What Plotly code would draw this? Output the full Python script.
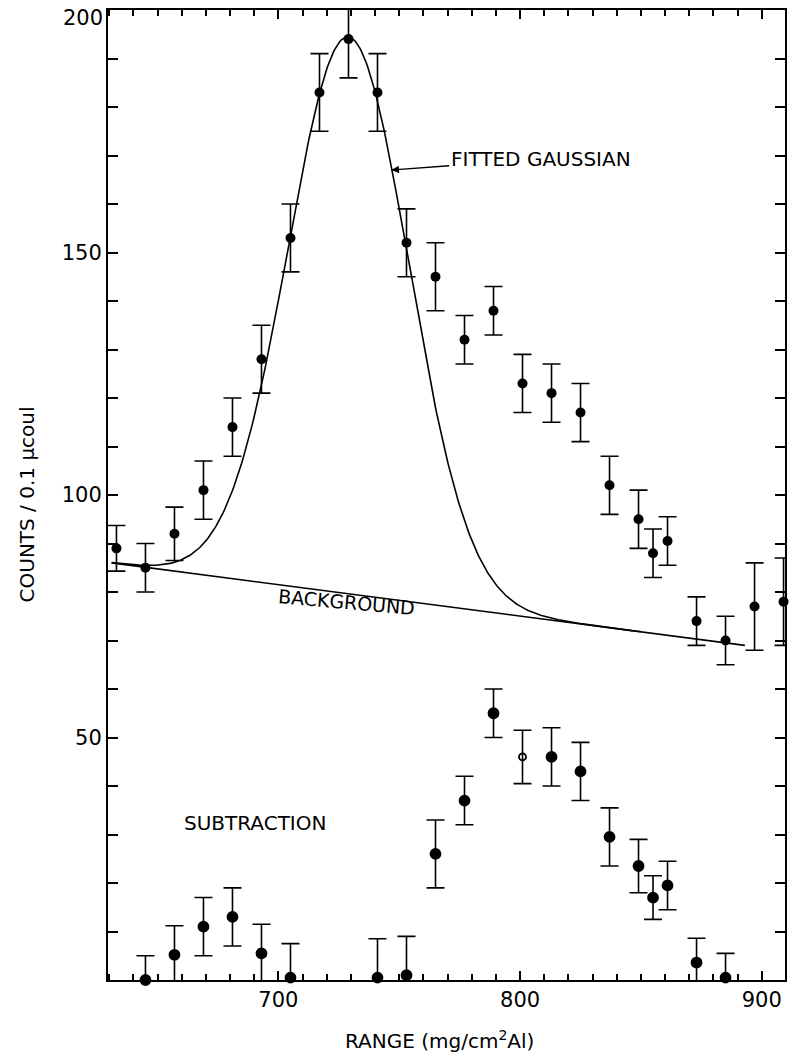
import numpy as np
import plotly.graph_objects as go

# Total counts per 0.1 µcoul versus absorber range
range_x = [633, 645, 657, 669, 681, 693, 705, 717, 729, 741, 753, 765, 777,
           789, 801, 813, 825, 837, 849, 855, 861, 873, 885, 897, 909]
counts = [89, 85, 92, 101, 114, 128, 153, 183, 194, 183, 152, 145, 132,
          138, 123, 121, 117, 102, 95, 88, 90.5, 74, 70, 77, 78]
counts_err = [4.7, 5, 5.5, 6, 6, 7, 7, 8, 8, 8, 7, 7, 5,
              5, 6, 6, 6, 6, 6, 5, 5, 5, 5, 9, 9]

# Counts left after subtracting the fitted Gaussian and background
sub_x = [645, 657, 669, 681, 693, 705, 741, 753, 765, 777, 789, 801, 813,
         825, 837, 849, 855, 861, 873, 885]
sub_counts = [0, 5.2, 11, 13, 5.5, 0.5, 0.5, 1, 26, 37, 55, 46, 46,
              43, 29.5, 23.5, 17, 19.5, 3.6, 0.5]
sub_err = [5, 6, 6, 6, 6, 7, 8, 8, 7, 5, 5, 5.5, 6,
           6, 6, 5.5, 4.5, 5, 5, 5]
open_point_x = 801

# Linear background and Gaussian fit parameters
bg_x = [631, 893]
bg_y = [86, 69]
gauss_center = 729
gauss_sigma = 25
gauss_amp = 114.8
fit_x_end = 850

x_range = [629.5, 909.6]
y_range = [0, 200]
y_labels = [50, 100, 150]
y_top_label = "200"

FONT = "DejaVu Sans"

fit_x = np.linspace(bg_x[0], fit_x_end, 400)
fit_y = np.interp(fit_x, bg_x, bg_y) + gauss_amp * np.exp(
    -((fit_x - gauss_center) ** 2) / (2 * gauss_sigma ** 2))

fig = go.Figure()

fig.add_trace(go.Scatter(
    x=bg_x, y=bg_y, mode="lines",
    line=dict(color="black", width=1.6), showlegend=False))

fig.add_trace(go.Scatter(
    x=fit_x, y=fit_y, mode="lines",
    line=dict(color="black", width=1.6), showlegend=False))

err_style = dict(type="data", color="black", thickness=1.6, width=9)

fig.add_trace(go.Scatter(
    x=range_x, y=counts, mode="markers",
    marker=dict(color="black", size=10, symbol="circle", opacity=1),
    error_y=dict(array=counts_err, **err_style),
    cliponaxis=False, showlegend=False))

sub_symbols = ["circle-open" if x == open_point_x else "circle" for x in sub_x]
sub_sizes = [7 if x == open_point_x else 10 for x in sub_x]
fig.add_trace(go.Scatter(
    x=sub_x, y=sub_counts, mode="markers",
    marker=dict(color="black", size=sub_sizes, symbol=sub_symbols, opacity=1,
                line=dict(color="black", width=1.8)),
    error_y=dict(array=sub_err, **err_style),
    cliponaxis=False, showlegend=False))

axis_common = dict(
    showline=True, linecolor="black", linewidth=2, mirror="allticks",
    ticks="inside", tickcolor="black", tickwidth=1.8,
    showgrid=False, zeroline=False, automargin=False,
    tickfont=dict(family=FONT, size=21, color="black"),
)

fig.update_xaxes(
    range=x_range, tickvals=[700, 800, 900], ticklen=9,
    minor=dict(dtick=10, tick0=0, ticks="inside", ticklen=6,
               tickcolor="black", tickwidth=1.5, showgrid=False),
    **axis_common)
fig.update_yaxes(
    range=y_range, tickvals=y_labels, ticklen=10,
    minor=dict(dtick=10, tick0=0, ticks="inside", ticklen=10,
               tickcolor="black", tickwidth=1.5, showgrid=False),
    **axis_common)

# Top y label sits just below the upper frame edge
fig.add_annotation(
    x=-0.004, y=0.9918, xref="paper", yref="paper", text=y_top_label,
    showarrow=False, xanchor="right", yanchor="middle",
    font=dict(family=FONT, size=21, color="black"))

# Label with an arrow pointing at the fitted curve
fig.add_annotation(
    x=746.7, y=167, ax=808.5, ay=169.3, axref="x", ayref="y",
    xref="x", yref="y", text="FITTED GAUSSIAN", showarrow=True,
    arrowhead=2, arrowsize=1.1, arrowwidth=1.4, arrowcolor="black",
    borderpad=1, font=dict(family=FONT, size=20, color="black"))
fig.add_annotation(
    x=728, y=77.9, xref="x", yref="y", text="BACKGROUND",
    showarrow=False, textangle=5,
    font=dict(family=FONT, size=19, color="black"))
fig.add_annotation(
    x=690.4, y=32.4, xref="x", yref="y", text="SUBTRACTION",
    showarrow=False, font=dict(family=FONT, size=20, color="black"))

fig.add_annotation(
    x=0.49, y=-0.062, xref="paper", yref="paper",
    text="RANGE (mg/cm<sup>2</sup>Al)", showarrow=False,
    xanchor="center", yanchor="middle",
    font=dict(family=FONT, size=20, color="black"))
fig.add_annotation(
    x=-0.12, y=0.49, xref="paper", yref="paper",
    text="COUNTS / 0.1 μcoul", showarrow=False, textangle=-90,
    xanchor="center", yanchor="middle",
    font=dict(family=FONT, size=20, color="black"))

fig.update_layout(
    width=789, height=1058,
    margin=dict(l=108, r=4, t=10, b=78),
    paper_bgcolor="white", plot_bgcolor="white",
    showlegend=False,
)

fig.write_html("out.html")
